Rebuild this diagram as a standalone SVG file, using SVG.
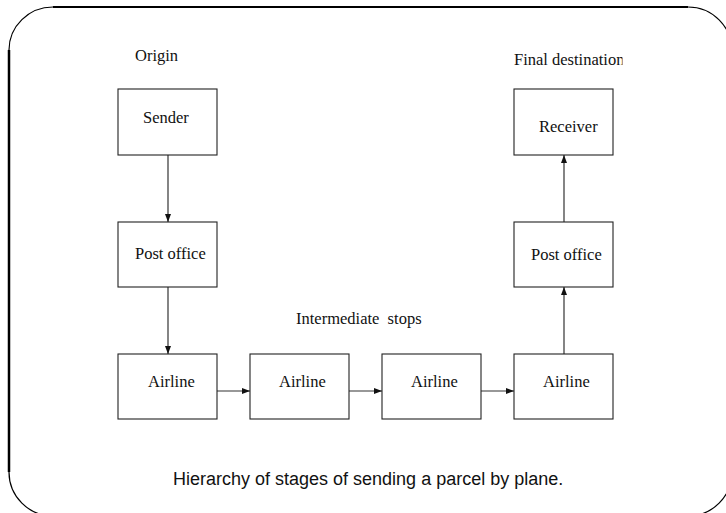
<svg xmlns="http://www.w3.org/2000/svg" width="726" height="513" viewBox="0 0 726 513">
<style>
.box{fill:#fff;stroke:#222;stroke-width:1.1}
.t{font-family:"Liberation Serif","Times New Roman",serif;font-size:16.5px;fill:#111}
.cap{font-family:"Liberation Sans",Arial,sans-serif;font-size:18px;fill:#111}
.frame{fill:none;stroke:#000}
.conn{stroke:#333;stroke-width:1.2;fill:none;marker-end:url(#ah)}
</style>
<defs>
<marker id="ah" viewBox="0 0 8 6" refX="8" refY="3" markerWidth="8" markerHeight="6" markerUnits="userSpaceOnUse" orient="auto">
<path d="M0,0 L8,3 L0,6 Z" fill="#111"/>
</marker>
<clipPath id="fdclip"><rect x="500" y="40" width="122.5" height="40"/></clipPath>
</defs>
<rect width="726" height="513" fill="#fff"/>
<g id="frame">
<line class="frame" x1="53" y1="7" x2="688" y2="7" stroke-width="2.2"/>
<line class="frame" x1="9" y1="50" x2="9" y2="472" stroke-width="2.5"/>
<path class="frame" stroke-width="1.2" d="M9,50 A44,43 0 0 1 53,7"/>
<path class="frame" stroke-width="1.2" d="M688,7 A44,44 0 0 1 732,51"/>
<path class="frame" stroke-width="1.2" d="M9,472 A44,44 0 0 0 53,516"/>
<path class="frame" stroke-width="1.2" d="M732,472 A44,44 0 0 1 688,516"/>
</g>
<g id="labels">
<text class="t" x="135" y="61">Origin</text>
<text class="t" x="514" y="65" clip-path="url(#fdclip)">Final destination</text>
<text class="t" x="296" y="324" style="white-space:pre">Intermediate  stops</text>
<text class="cap" x="173" y="485">Hierarchy of stages of sending a parcel by plane.</text>
</g>
<g id="connectors">
<line class="conn" x1="168" y1="155" x2="168" y2="222"/>
<line class="conn" x1="168" y1="287" x2="168" y2="354"/>
<line class="conn" x1="217" y1="391" x2="250" y2="391"/>
<line class="conn" x1="349" y1="391" x2="382" y2="391"/>
<line class="conn" x1="481" y1="391" x2="514" y2="391"/>
<line class="conn" x1="564" y1="354" x2="564" y2="287"/>
<line class="conn" x1="564" y1="222" x2="564" y2="155"/>
</g>
<g id="sender"><rect class="box" x="118" y="89" width="99" height="66"/><text class="t" x="143" y="123">Sender</text></g>
<g id="postoffice1"><rect class="box" x="118" y="222" width="99" height="65"/><text class="t" x="135" y="259">Post office</text></g>
<g id="airline1"><rect class="box" x="118" y="354" width="99" height="65"/><text class="t" x="148" y="387">Airline</text></g>
<g id="airline2"><rect class="box" x="250" y="354" width="99" height="65"/><text class="t" x="279" y="387">Airline</text></g>
<g id="airline3"><rect class="box" x="382" y="354" width="99" height="65"/><text class="t" x="411" y="387">Airline</text></g>
<g id="airline4"><rect class="box" x="514" y="354" width="99" height="65"/><text class="t" x="543" y="387">Airline</text></g>
<g id="postoffice2"><rect class="box" x="514" y="222" width="99" height="65"/><text class="t" x="531" y="260">Post office</text></g>
<g id="receiver"><rect class="box" x="514" y="89" width="99" height="66"/><text class="t" x="539" y="132">Receiver</text></g>
</svg>
